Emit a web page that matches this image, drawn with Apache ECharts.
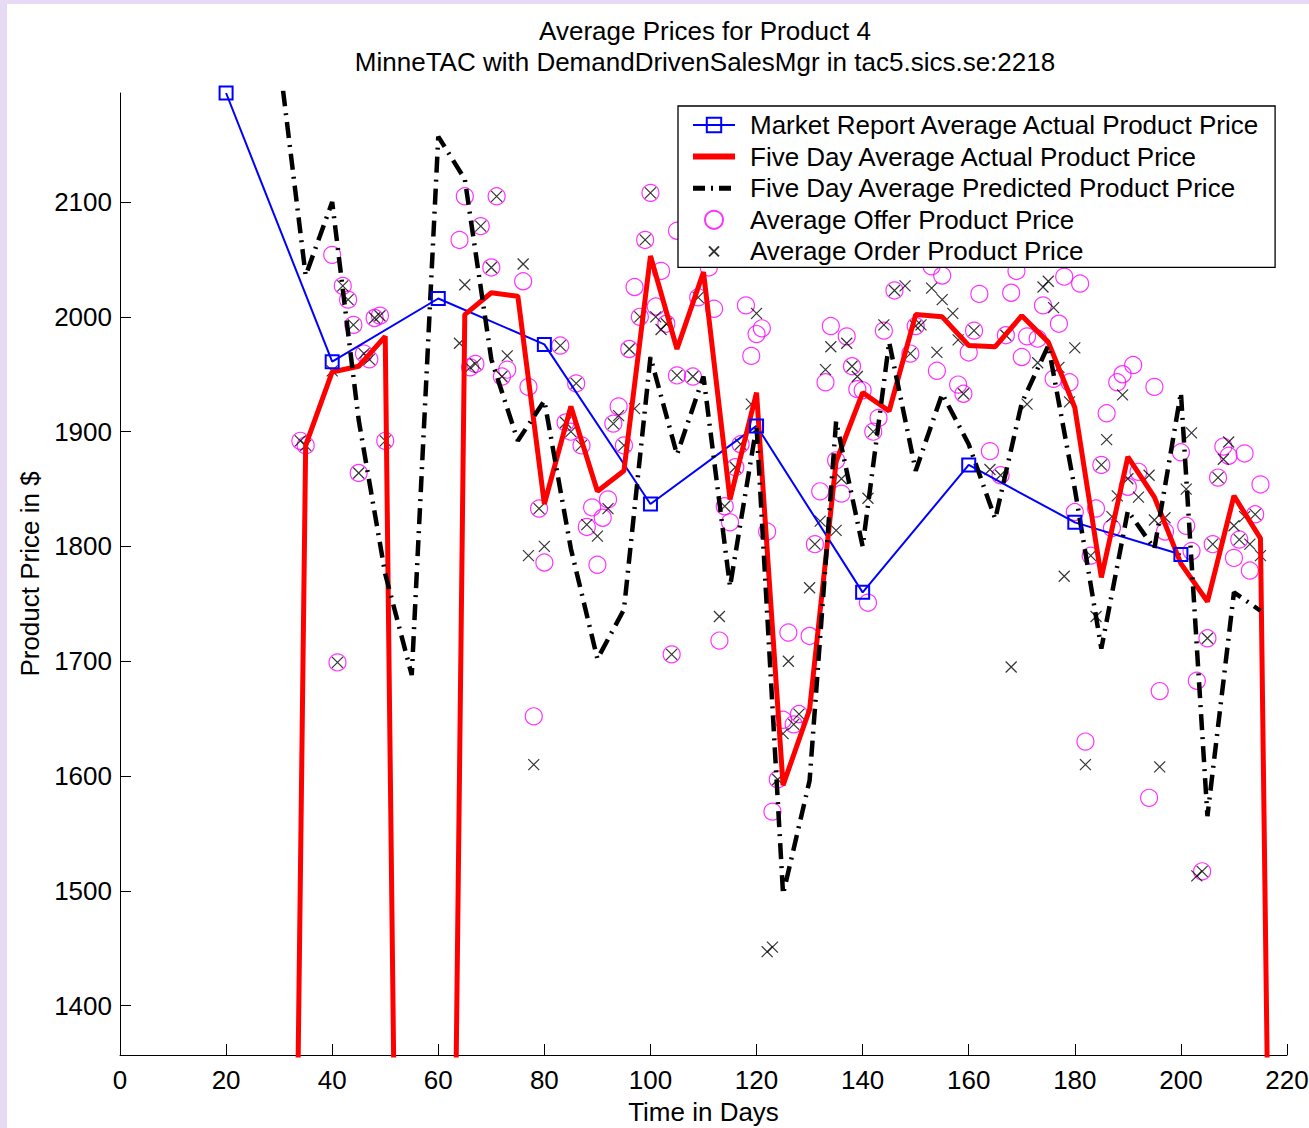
<!DOCTYPE html>
<html><head><meta charset="utf-8">
<script src="https://cdn.jsdelivr.net/npm/echarts@6/dist/echarts.min.js"></script>
<style>
html,body{margin:0;padding:0;background:#E7DAF5;width:1309px;height:1128px;overflow:hidden;}
#c{position:absolute;left:7px;top:4px;width:1302px;height:1124px;background:#fff;}
</style></head><body><div id="c"></div>
<script>
const titleLines = ['Average Prices for Product 4', 'MinneTAC with DemandDrivenSalesMgr in tac5.sics.se:2218'];
const seriesNames = ['Market Report Average Actual Product Price','Five Day Average Actual Product Price','Five Day Average Predicted Product Price','Average Offer Product Price','Average Order Product Price'];
const xTicks = [0,20,40,60,80,100,120,140,160,180,200,220];
const yTicks = [1400,1500,1600,1700,1800,1900,2000,2100];

const reportDays = [20,40,60,80,100,120,140,160,180,200];
const reportPrices = [2195,1961,2016,1976,1837,1905,1760,1871,1821,1793];

const actualDays = [30,35,40,45,50,55,60,65,70,75,80,85,90,95,100,105,110,115,120,125,130,135,140,145,150,155,160,165,170,175,180,185,190,195,200,205,210,215,220];
const actualPrices = [0,1888,1952,1957,1983,0,0,2002,2021,2018,1837,1922,1848,1866,2053,1972,2039,1841,1934,1592,1658,1874,1934,1918,2002,2000,1975,1974,2001,1978,1921,1773,1878,1843,1785,1752,1844,1807,0];

const predictedDays = [30,35,40,45,50,55,60,65,70,75,80,85,90,95,100,105,110,115,120,125,130,135,140,145,150,155,160,165,170,175,180,185,190,195,200,205,210,215];
const predictedPrices = [2225,2036,2100,1910,1776,1688,2157,2120,1963,1892,1927,1798,1702,1745,1965,1880,1948,1765,1905,1497,1596,1909,1800,1978,1866,1933,1889,1824,1925,1975,1850,1711,1831,1798,1934,1565,1760,1744];

const offerDays = [34,35,40,41,42,43,44,45,46,47,48,49,50,64,65,66,67,68,70,71,72,73,76,77,78,79,80,83,84,85,86,87,88,89,90,91,92,93,94,95,96,97,98,99,100,101,102,103,104,105,105,108,109,111,112,113,114,115,116,117,118,119,120,121,122,123,124,125,126,127,128,130,131,132,133,134,135,136,137,138,139,140,141,142,143,144,146,149,150,153,154,155,158,159,160,161,162,164,166,167,168,169,170,171,173,174,176,177,178,179,180,181,182,183,184,185,186,187,188,189,190,191,192,194,195,196,197,200,201,202,203,204,205,206,207,208,209,210,211,212,213,214,215];
const offerPrices = [1892,1888,2054,1699,2027,2015,1993,1864,1968,1963,1999,2001,1892,2067,2105,1956,1959,2079,2043,2105,1948,1954,2031,1939,1652,1833,1786,1975,1908,1900,1942,1888,1817,1834,1784,1825,1841,1907,1922,1888,1972,2026,2000,2067,2108,2009,2040,1994,1706,1949,2075,1948,2017,2043,2007,1718,1835,1821,1869,1889,2010,1966,1985,1990,1813,1569,1597,1649,1725,1645,1654,1722,1802,1848,1943,1992,1875,1846,1983,1957,1937,1936,1751,1900,1912,1988,2023,1968,1992,2044,1953,2036,1941,1933,1969,1988,2020,1883,1862,1984,2021,2040,1965,1983,1981,2010,1946,1994,2035,1943,1830,2029,1630,1792,1833,1871,1916,1816,1943,1950,1852,1958,1865,1581,1939,1674,1813,1882,1818,1796,1683,1517,1720,1802,1860,1887,1879,1790,1806,1881,1779,1828,1854];

const orderDays = [34,35,40,41,42,43,44,45,46,47,48,49,50,64,65,66,67,68,70,71,72,73,76,77,78,79,80,83,84,85,86,87,88,90,92,93,94,95,96,97,98,99,100,101,102,103,104,105,108,109,113,114,116,117,119,120,122,123,124,125,126,127,128,130,131,132,133,134,135,136,137,138,139,141,142,144,146,148,149,150,151,153,154,155,157,158,159,161,164,166,167,168,171,173,174,175,176,177,178,179,180,182,183,184,185,186,187,188,189,190,192,194,195,196,197,201,202,203,204,205,206,207,208,209,210,211,212,213,214,215];
const orderPrices = [1892,1888,1953,1699,2027,2015,1993,1864,1968,1963,1999,2001,1892,1977,2028,1956,1959,2079,2043,2105,1948,1966,2046,1792,1610,1833,1800,1975,1908,1900,1942,1888,1819,1809,1833,1907,1914,1888,1972,1920,2000,2067,2108,2000,1989,1994,1706,1949,1948,2017,1739,1835,1869,1889,1924,2003,1447,1451,1597,1637,1700,1645,1654,1764,1802,1822,1954,1974,1814,1859,1977,1957,1948,1842,1900,1993,2023,2027,1968,1992,1993,2025,1969,2015,2003,1980,1933,1988,1867,1862,1984,1695,1924,1960,2026,2031,2008,1956,1774,1926,1973,1610,1792,1739,1871,1893,1826,1844,1932,1859,1843,1862,1823,1608,1825,1850,1899,1513,1517,1720,1802,1860,1876,1891,1818,1806,1826,1802,1828,1792];

const pairs = (xs, ys) => xs.map((x, i) => [x, ys[i]]);
const FONT = '"Liberation Sans", Arial, Helvetica, sans-serif';
const X_PATH = 'path://M0,0L10,10M10,0L0,10';
const X_LEGEND = 'path://M-4,-4M14,14M0,0L10,10M10,0L0,10';
const HIDDEN_MARK = {color: 'rgba(0,0,0,0)', borderColor: 'rgba(0,0,0,0)', borderWidth: 0};
const DASH_DOT = [16, 7, 2, 7];

const chart = echarts.init(document.getElementById('c'), null, {renderer: 'svg'});
chart.setOption({
  animation: false,
  backgroundColor: '#ffffff',
  textStyle: {fontFamily: FONT, color: '#000'},
  title: [
    {text: titleLines[0], left: 698, top: 14, textAlign: 'center', padding: 0,
     textStyle: {fontSize: 26, fontWeight: 'normal', color: '#000', fontFamily: FONT}},
    {text: titleLines[1], left: 698, top: 45, textAlign: 'center', padding: 0,
     textStyle: {fontSize: 26, fontWeight: 'normal', color: '#000', fontFamily: FONT}}
  ],
  grid: {left: 113, top: 89, width: 1167, height: 962, containLabel: false, outerBoundsMode: 'none'},
  legend: {
    orient: 'vertical', left: 671, top: 102,
    padding: [6, 14, 3, 12],
    itemWidth: 42, itemHeight: 18, itemGap: 5.6,
    borderColor: '#000', borderWidth: 1.3, backgroundColor: '#fff',
    textStyle: {fontSize: 26, color: '#000', fontFamily: FONT, lineHeight: 26, padding: [0, 0, 0, 10]},
    data: [
      {name: seriesNames[0]},
      {name: seriesNames[1], itemStyle: HIDDEN_MARK, lineStyle: {color: '#ff0000', width: 6}},
      {name: seriesNames[2], itemStyle: HIDDEN_MARK, lineStyle: {color: '#000000', width: 5, type: [12, 6, 2, 6], cap: 'butt'}},
      {name: seriesNames[3]},
      {name: seriesNames[4], icon: X_LEGEND}
    ]
  },
  xAxis: {
    type: 'value', min: xTicks[0], max: xTicks[xTicks.length - 1], interval: 20,
    axisLine: {lineStyle: {color: '#000', width: 1}},
    axisTick: {inside: true, length: 11, lineStyle: {color: '#000', width: 1}},
    axisLabel: {fontSize: 26, color: '#000', margin: 12, fontFamily: FONT, formatter: v => String(v)},
    splitLine: {show: false},
    name: 'Time in Days', nameLocation: 'middle', nameGap: 44,
    nameTextStyle: {fontSize: 26, color: '#000', fontFamily: FONT}
  },
  yAxis: {
    type: 'value', min: 1357, max: 2195,
    axisLine: {show: true, lineStyle: {color: '#000', width: 1}},
    axisTick: {show: true, inside: true, length: 11, customValues: yTicks, lineStyle: {color: '#000', width: 1}},
    axisLabel: {fontSize: 26, color: '#000', margin: 8, customValues: yTicks, fontFamily: FONT, formatter: v => String(v)},
    splitLine: {show: false},
    name: 'Product Price in $', nameLocation: 'middle', nameRotate: 90, nameGap: 70,
    nameTextStyle: {fontSize: 26, color: '#000', fontFamily: FONT}
  },
  series: [
    {name: seriesNames[0], type: 'line', data: pairs(reportDays, reportPrices), clip: false,
     symbol: 'rect', symbolSize: 13, showAllSymbol: true,
     itemStyle: {color: 'rgba(0,0,0,0)', borderColor: '#0000ff', borderWidth: 2},
     lineStyle: {color: '#0000ff', width: 2}},
    {name: seriesNames[1], type: 'line', data: pairs(actualDays, actualPrices),
     symbol: 'circle', showSymbol: false, itemStyle: {color: '#ff0000'},
     lineStyle: {color: '#ff0000', width: 5}},
    {name: seriesNames[2], type: 'line', data: pairs(predictedDays, predictedPrices),
     symbol: 'circle', showSymbol: false, itemStyle: {color: '#000000'},
     lineStyle: {color: '#000000', width: 4.5, type: DASH_DOT, cap: 'butt'}},
    {name: seriesNames[3], type: 'scatter', data: pairs(offerDays, offerPrices),
     symbol: 'circle', symbolSize: 17,
     itemStyle: {color: 'rgba(0,0,0,0)', borderColor: '#ff00ff', borderWidth: 1.2}},
    {name: seriesNames[4], type: 'scatter', data: pairs(orderDays, orderPrices),
     symbol: X_PATH, symbolSize: 11,
     itemStyle: {color: 'rgba(0,0,0,0)', borderColor: '#000000', borderWidth: 1.2}}
  ]
});
</script></body></html>
